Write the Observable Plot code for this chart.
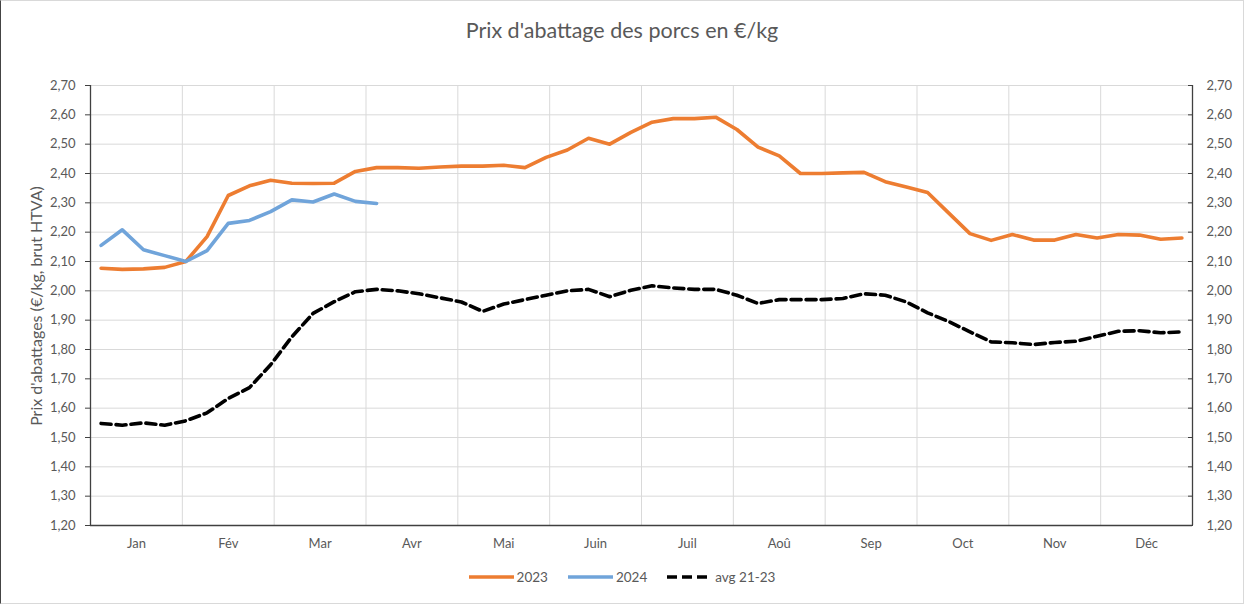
<!DOCTYPE html>
<html>
<head>
<meta charset="utf-8">
<script src="https://cdn.jsdelivr.net/npm/d3@7"></script>
<script src="https://cdn.jsdelivr.net/npm/@observablehq/plot@0.6"></script>
<style>
  html, body { margin: 0; padding: 0; background: #fff; }
  body { font-family: "Lato", "Open Sans", sans-serif; }
  #wrap { position: relative; width: 1244px; height: 604px; overflow: hidden; background: #fff; }
  #frame { position: absolute; inset: 0; border: 1px solid #d9d9d9; border-left-color: #444; pointer-events: none; }
  #title { position: absolute; top: 17px; left: 0; width: 1244px; text-align: center; font-size: 21.5px; color: #595959; }
  #chart { position: absolute; top: 60px; left: 0; }
  #ylabel { position: absolute; left: 35px; top: 306px; transform: translate(-50%, -50%) rotate(-90deg); white-space: nowrap; font-size: 16px; color: #595959; }
  #legend { position: absolute; top: 569px; left: 0; width: 1244px; display: flex; justify-content: center; align-items: center; font-size: 13.5px; color: #595959; }
  #legend .item { display: flex; align-items: center; margin: 0 10px; }
  #legend svg { margin-right: 3px; }
</style>
</head>
<body>
<div id="wrap">
  <div id="title">Prix d'abattage des porcs en €/kg</div>
  <div id="chart"></div>
  <div id="ylabel">Prix d'abattages (€/kg, brut HTVA)</div>
  <div id="legend"></div>
  <div id="frame"></div>
</div>
<script>
// ---- Data (weekly, 52 weeks) ----
const months = ["Jan", "Fév", "Mar", "Avr", "Mai", "Juin", "Juil", "Aoû", "Sep", "Oct", "Nov", "Déc"];
const seriesNames = ["2023", "2024", "avg 21-23"];
const seriesColors = ["#ED7D31", "#70A4DA", "#000000"];
const yTicks = [1.2, 1.3, 1.4, 1.5, 1.6, 1.7, 1.8, 1.9, 2.0, 2.1, 2.2, 2.3, 2.4, 2.5, 2.6, 2.7];

const price2023 = [
  2.077, 2.073, 2.075, 2.080, 2.100, 2.185, 2.325, 2.358, 2.377, 2.367,
  2.366, 2.367, 2.407, 2.420, 2.420, 2.418, 2.422, 2.425, 2.425, 2.428,
  2.420, 2.455, 2.480, 2.520, 2.500, 2.540, 2.575, 2.587, 2.587, 2.592,
  2.550, 2.490, 2.460, 2.400, 2.400, 2.402, 2.404, 2.372, 2.354, 2.335,
  2.265, 2.195, 2.172, 2.192, 2.173, 2.173, 2.192, 2.180, 2.192, 2.190,
  2.176, 2.180
];
const price2024 = [
  2.155, 2.208, 2.140, 2.120, 2.100, 2.137, 2.230, 2.240, 2.270, 2.310,
  2.303, 2.330, 2.305, 2.298
];
const priceAvg = [
  1.548, 1.542, 1.550, 1.542, 1.557, 1.584, 1.633, 1.670, 1.748, 1.843,
  1.923, 1.963, 1.997, 2.005, 2.000, 1.990, 1.976, 1.962, 1.930, 1.955,
  1.970, 1.985, 2.000, 2.005, 1.980, 2.002, 2.017, 2.010, 2.005, 2.005,
  1.985, 1.957, 1.970, 1.970, 1.970, 1.974, 1.990, 1.985, 1.962, 1.925,
  1.895, 1.860, 1.826, 1.823, 1.817, 1.824, 1.828, 1.845, 1.862, 1.864,
  1.857, 1.860
];

const nWeeks = 52;
const weekPos = (i) => (i + 0.5) * months.length / nWeeks; // position in month units
const toRows = (arr, s) => arr.map((v, i) => ({week: i, x: weekPos(i), value: v, series: s}));
const rows2023 = toRows(price2023, seriesNames[0]);
const rows2024 = toRows(price2024, seriesNames[1]);
const rowsAvg = toRows(priceAvg, seriesNames[2]);

const monthCenters = months.map((m, i) => i + 0.5);
const monthBounds = months.map((m, i) => i).slice(1);
const fmt = (d) => d3.format(".2f")(d).replace(".", ",");
const txt = "#595959";
const fontSize = 13;

const chart = Plot.plot({
  width: 1244,
  height: 505,
  marginTop: 25,
  marginBottom: 40,
  marginLeft: 90,
  marginRight: 52,
  style: { fontFamily: "Lato, 'Open Sans', sans-serif", fontSize: fontSize + "px", background: "transparent", overflow: "visible" },
  x: { domain: [0, months.length] },
  y: { domain: [1.2, 2.7] },
  marks: [
    Plot.gridY(yTicks.slice(1), { stroke: "#d9d9d9", strokeOpacity: 1, strokeWidth: 1 }),
    Plot.gridX(monthBounds, { stroke: "#d9d9d9", strokeOpacity: 1, strokeWidth: 1 }),
    Plot.ruleX([0, months.length], { stroke: "#404040", strokeWidth: 1.3 }),
    Plot.ruleY([1.2], { stroke: "#404040", strokeWidth: 1.3 }),
    Plot.axisY(yTicks, { anchor: "left", tickSize: 5, tickPadding: 10, tickFormat: fmt, color: txt, stroke: "#404040", fontSize, label: null }),
    Plot.axisY(yTicks, { anchor: "right", tickSize: 5, dx: -5, tickFormat: () => "", stroke: "#404040", label: null }),
    Plot.axisY(yTicks, { anchor: "right", tickSize: 0, tickPadding: 14, tickFormat: fmt, color: txt, fontSize, label: null }),
    Plot.axisX(monthCenters, { anchor: "bottom", tickSize: 0, tickPadding: 13, tickFormat: (d) => months[Math.floor(d)], color: txt, fontSize, label: null }),
    Plot.line(rowsAvg, { x: "x", y: "value", stroke: seriesColors[2], strokeWidth: 3.6, strokeDasharray: "10,5" }),
    Plot.line(rows2023, { x: "x", y: "value", stroke: seriesColors[0], strokeWidth: 3.6, strokeLinejoin: "round" }),
    Plot.line(rows2024, { x: "x", y: "value", stroke: seriesColors[1], strokeWidth: 3.6, strokeLinejoin: "round" })
  ]
});
document.getElementById("chart").appendChild(chart);

// Legend
const legend = document.getElementById("legend");
seriesNames.forEach((name, k) => {
  const item = document.createElement("div");
  item.className = "item";
  const dash = k === 2 ? ' stroke-dasharray="10,5"' : "";
  item.innerHTML = `<svg width="45" height="10"><line x1="0" y1="5" x2="45" y2="5" stroke="${seriesColors[k]}" stroke-width="3.6"${dash}/></svg><span>${name}</span>`;
  legend.appendChild(item);
});
</script>
</body>
</html>
